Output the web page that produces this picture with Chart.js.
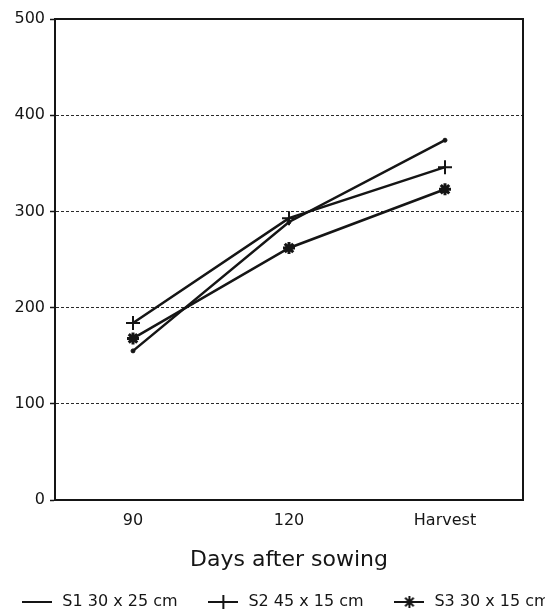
<!DOCTYPE html>
<html>
<head>
<meta charset="utf-8">
<script src="https://cdn.jsdelivr.net/npm/chart.js@4/dist/chart.umd.min.js"></script>
<style>
  html, body { margin: 0; padding: 0; background: #fff; overflow: hidden; }
  #clip { position: relative; width: 545px; height: 609px; overflow: hidden; background: #fff; }
  #growth { position: absolute; left: -25px; top: 0; }
</style>
</head>
<body>
<div id="clip"><canvas id="growth" width="620" height="620"></canvas></div>
<script>
// Sampling stages along the x axis
const stages = ['90', '120', 'Harvest'];

// Treatment names shown in the legend
const seriesNames = ['S1 30 x 25 cm', 'S2 45 x 15 cm', 'S3 30 x 15 cm'];

// Values per treatment at each stage
const s1Values = [155, 289, 374];
const s2Values = [184, 293, 346];
const s3Values = [168, 262, 323];

// Y axis range and step
const yMin = 0;
const yMax = 500;
const yStep = 100;

const INK = '#151515';
const FONT = 'DejaVu Sans';

// Marker styles for the three treatments
const markerStyles = [
  { pointStyle: 'circle', radius: 2, borderWidth: 1 },
  { pointStyle: 'cross', radius: 7, borderWidth: 2 },
  { pointStyle: 'star', radius: 6, borderWidth: 3 }
];

// Legend samples: a short line with the series marker in the middle
function makeSample(m) {
  const cv = document.createElement('canvas');
  cv.width = 30; cv.height = 16;
  const g = cv.getContext('2d');
  g.strokeStyle = INK; g.fillStyle = INK; g.lineWidth = 2;
  g.beginPath(); g.moveTo(0, 8); g.lineTo(30, 8); g.stroke();
  if (m.pointStyle !== 'circle') {
    Chart.helpers.drawPoint(g, { pointStyle: m.pointStyle, radius: m.radius, borderWidth: m.borderWidth, rotation: 0 }, 15, 8);
  }
  return cv;
}
const samples = markerStyles.map(makeSample);

// Solid frame around the plotting area (top and right edges)
const framePlugin = {
  id: 'frame',
  beforeDatasetsDraw(chart) {
    const { ctx, chartArea: a } = chart;
    ctx.save();
    ctx.strokeStyle = INK;
    ctx.lineWidth = 2;
    ctx.strokeRect(a.left, a.top, a.right - a.left, a.bottom - a.top);
    ctx.restore();
  }
};

const seriesValues = [s1Values, s2Values, s3Values];

new Chart(document.getElementById('growth'), {
  type: 'line',
  data: {
    labels: stages,
    datasets: seriesValues.map((vals, i) => ({
      label: seriesNames[i],
      data: vals,
      borderColor: INK,
      backgroundColor: INK,
      borderWidth: 2.5,
      tension: 0,
      fill: false,
      pointStyle: markerStyles[i].pointStyle,
      pointRadius: markerStyles[i].radius,
      pointBorderWidth: markerStyles[i].borderWidth,
      pointBorderColor: INK,
      pointBackgroundColor: INK
    }))
  },
  options: {
    responsive: false,
    animation: false,
    devicePixelRatio: 1,
    layout: { padding: { top: 19, left: 0, right: 0, bottom: 0 } },
    plugins: {
      tooltip: { enabled: false },
      legend: {
        position: 'bottom',
        labels: {
          color: INK,
          font: { family: FONT, size: 16 },
          usePointStyle: true,
          pointStyleWidth: 34,
          padding: 28.8,
          generateLabels(chart) {
            const items = Chart.defaults.plugins.legend.labels.generateLabels(chart);
            items.forEach((it, i) => { it.pointStyle = samples[i]; });
            return items;
          }
        }
      }
    },
    scales: {
      x: {
        type: 'category',
        offset: true,
        grid: { display: false, drawTicks: false },
        border: { display: true, color: INK, width: 2 },
        ticks: { color: INK, font: { family: FONT, size: 16 }, padding: 11, maxRotation: 0 },
        title: {
          display: true,
          text: 'Days after sowing',
          color: INK,
          font: { family: FONT, size: 22 },
          padding: { top: 0, bottom: -8 }
        },
        afterFit(s) { s.height = 65.2; }
      },
      y: {
        min: yMin,
        max: yMax,
        ticks: { stepSize: yStep, color: INK, font: { family: FONT, size: 16 }, padding: 5 },
        grid: { color: '#2a2a2a', lineWidth: 1, tickLength: 5, tickColor: INK, tickWidth: 1.5 },
        border: { display: true, color: INK, width: 2, dash: [3, 2] },
        afterFit(s) { s.width = 80; }
      },
      yRight: {
        position: 'right',
        display: true,
        grid: { display: false, drawTicks: false },
        border: { display: false },
        ticks: { display: false },
        afterFit(s) { s.width = 72; }
      }
    }
  },
  plugins: [framePlugin]
});
</script>
</body>
</html>
